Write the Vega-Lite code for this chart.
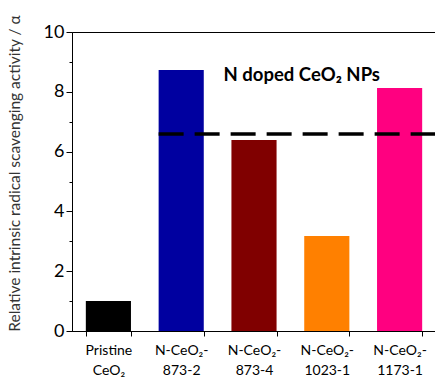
{
  "$schema": "https://vega.github.io/schema/vega-lite/v6.json",
  "autosize": "none",
  "width": 364,
  "height": 299,
  "padding": {"left": 72, "top": 32, "right": 0, "bottom": 46},
  "background": "white",
  "config": {
    "font": "Lato",
    "view": {"stroke": "black", "strokeWidth": 1}
  },
  "datasets": {
    "bars": [
      {"sample": "Pristine|CeO₂", "activity": 1.0, "color": "#000000"},
      {"sample": "N-CeO₂-|873-2", "activity": 8.73, "color": "#0000A0"},
      {"sample": "N-CeO₂-|873-4", "activity": 6.39, "color": "#800000"},
      {"sample": "N-CeO₂-|1023-1", "activity": 3.18, "color": "#FF8000"},
      {"sample": "N-CeO₂-|1173-1", "activity": 8.13, "color": "#FF0080"}
    ],
    "ref": [
      {"start": "N-CeO₂-|873-2", "end": "N-CeO₂-|1173-1", "level": 6.59}
    ],
    "note": [
      {"sample": "N-CeO₂-|1023-1", "level": 8.56, "label": "N doped CeO₂ NPs"}
    ],
    "minor": [
      {"v": 1}, {"v": 3}, {"v": 5}, {"v": 7}, {"v": 9}
    ]
  },
  "layer": [
    {
      "data": {"name": "bars"},
      "mark": {"type": "bar"},
      "encoding": {
        "x": {
          "field": "sample",
          "type": "nominal",
          "scale": {
            "domain": ["Pristine|CeO₂", "N-CeO₂-|873-2", "N-CeO₂-|873-4", "N-CeO₂-|1023-1", "N-CeO₂-|1173-1"],
            "paddingInner": 0.38,
            "paddingOuter": 0.19
          },
          "axis": {
            "title": null,
            "labelAngle": 0,
            "labelExpr": "split(datum.label, '|')",
            "labelFontSize": 14,
            "labelLineHeight": 20,
            "labelColor": "#000000",
            "labelPadding": 7,
            "labelBaseline": "top",
            "tickBand": "extent",
            "tickSize": 5,
            "tickColor": "#000000",
            "domainColor": "#000000"
          }
        },
        "y": {
          "field": "activity",
          "type": "quantitative",
          "scale": {"domain": [0, 10], "nice": false},
          "axis": {
            "values": [0, 2, 4, 6, 8, 10],
            "grid": false,
            "tickSize": 6,
            "tickColor": "#000000",
            "domainColor": "#000000",
            "labelFontSize": 18,
            "labelColor": "#000000",
            "labelPadding": 2,
            "title": "Relative intrinsic radical scavenging activity / α",
            "titleFontSize": 15.5,
            "titleFontWeight": "normal",
            "titleColor": "#333333",
            "titleX": -58,
            "titleY": 141,
            "titleAngle": -90,
            "titleAlign": "center",
            "titleBaseline": "middle"
          }
        },
        "color": {"field": "color", "type": "nominal", "scale": null}
      }
    },
    {
      "data": {"name": "minor"},
      "mark": {"type": "point", "opacity": 0},
      "encoding": {
        "y": {
          "field": "v",
          "type": "quantitative",
          "axis": {
            "orient": "left",
            "values": [1, 3, 5, 7, 9],
            "labels": false,
            "domain": false,
            "grid": false,
            "tickSize": 3,
            "tickColor": "#000000",
            "title": null
          }
        }
      }
    },
    {
      "data": {"name": "ref"},
      "mark": {"type": "rule", "strokeWidth": 3.5, "strokeDash": [25, 11], "color": "#000000"},
      "encoding": {
        "x": {"field": "start", "type": "nominal", "bandPosition": 0},
        "x2": {"field": "end", "bandPosition": 1.32},
        "y": {"field": "level", "type": "quantitative", "axis": null}
      }
    },
    {
      "data": {"name": "note"},
      "mark": {"type": "text", "fontSize": 18.5, "fontWeight": "bold", "dx": -25, "baseline": "middle", "align": "center", "color": "#000000"},
      "encoding": {
        "x": {"field": "sample", "type": "nominal"},
        "y": {"field": "level", "type": "quantitative", "axis": null},
        "text": {"field": "label"}
      }
    }
  ],
  "resolve": {"axis": {"y": "independent"}}
}
